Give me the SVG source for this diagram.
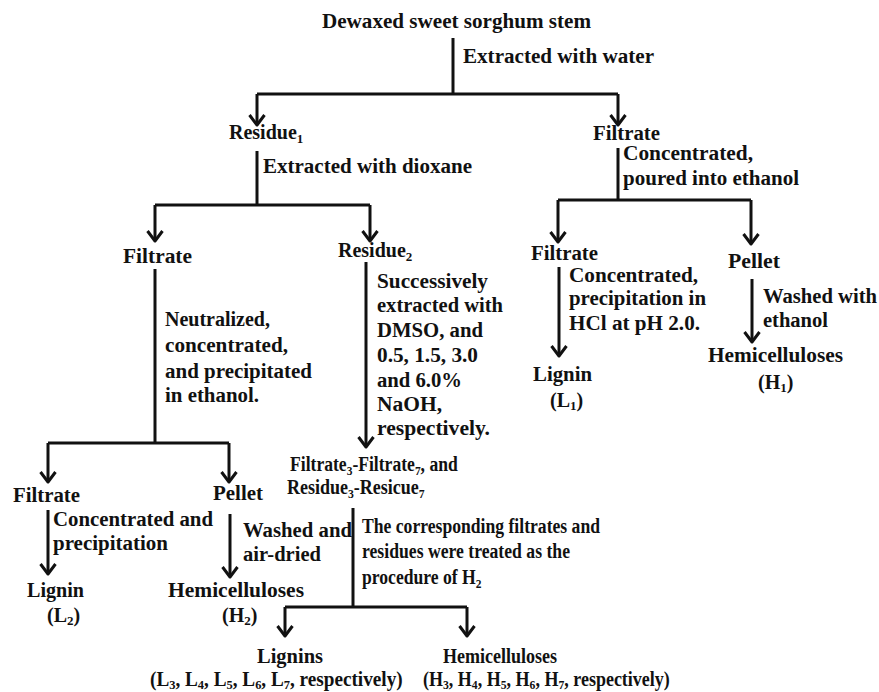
<svg xmlns="http://www.w3.org/2000/svg" width="879" height="692" viewBox="0 0 879 692">
<style>
text{font-family:"Liberation Serif","Times New Roman",serif;font-weight:bold;font-size:20px;fill:#111;}
.s{font-size:13px;}
.c{fill:none;stroke:#111;stroke-width:3;}
</style>
<defs>
<marker id="ah" markerUnits="userSpaceOnUse" viewBox="-12 -10 14 20" markerWidth="14" markerHeight="20" refX="0" refY="0" orient="auto" overflow="visible">
<path d="M-10,-7.5 L0,0 L-10,7.5" fill="none" stroke="#111" stroke-width="3" stroke-linejoin="round"/>
</marker>
</defs>
<rect width="879" height="692" fill="#fff"/>
<g id="connectors">
<path class="c" d="M453,38 V94"/>
<path class="c" d="M257,94 H618"/>
<path class="c" d="M257,94 V125" marker-end="url(#ah)"/>
<path class="c" d="M618,94 V125" marker-end="url(#ah)"/>
<path class="c" d="M257,151 V205"/>
<path class="c" d="M155,205 H370"/>
<path class="c" d="M155,205 V241" marker-end="url(#ah)"/>
<path class="c" d="M370,205 V241" marker-end="url(#ah)"/>
<path class="c" d="M618,148 V200"/>
<path class="c" d="M558,200 H751"/>
<path class="c" d="M558,200 V242" marker-end="url(#ah)"/>
<path class="c" d="M751,200 V244" marker-end="url(#ah)"/>
<path class="c" d="M155,269 V443"/>
<path class="c" d="M48,443 H229"/>
<path class="c" d="M48,443 V482" marker-end="url(#ah)"/>
<path class="c" d="M229,443 V482" marker-end="url(#ah)"/>
<path class="c" d="M366,262 V447" marker-end="url(#ah)"/>
<path class="c" d="M559,267 V356" marker-end="url(#ah)"/>
<path class="c" d="M752,279 V342" marker-end="url(#ah)"/>
<path class="c" d="M48,510 V574" marker-end="url(#ah)"/>
<path class="c" d="M230,514 V577" marker-end="url(#ah)"/>
<path class="c" d="M353,508 V607"/>
<path class="c" d="M285,607 H467"/>
<path class="c" d="M285,607 V636" marker-end="url(#ah)"/>
<path class="c" d="M467,607 V636" marker-end="url(#ah)"/>
</g>
<g id="start"><text x="322" y="28" textLength="269" lengthAdjust="spacingAndGlyphs" style="font-size:21px">Dewaxed sweet sorghum stem</text></g>
<g id="lbl-water"><text x="463" y="63" textLength="191" lengthAdjust="spacingAndGlyphs">Extracted with water</text></g>
<g id="residue1"><text x="229" y="139">Residue<tspan class="s" dy="4">1</tspan></text></g>
<g id="filtrate1"><text x="593" y="140" textLength="67" lengthAdjust="spacingAndGlyphs">Filtrate</text></g>
<g id="lbl-dioxane"><text x="263" y="173" textLength="209" lengthAdjust="spacingAndGlyphs">Extracted with dioxane</text></g>
<g id="lbl-conc1">
<text x="623" y="160" textLength="130" lengthAdjust="spacingAndGlyphs">Concentrated,</text>
<text x="623" y="185" textLength="176" lengthAdjust="spacingAndGlyphs">poured into ethanol</text>
</g>
<g id="filtrate-left"><text x="123" y="263" textLength="69" lengthAdjust="spacingAndGlyphs">Filtrate</text></g>
<g id="residue2"><text x="338" y="257">Residue<tspan class="s" dy="4">2</tspan></text></g>
<g id="lbl-neutralized">
<text x="165" y="326" textLength="105" lengthAdjust="spacingAndGlyphs">Neutralized,</text>
<text x="165" y="352" textLength="123" lengthAdjust="spacingAndGlyphs">concentrated,</text>
<text x="165" y="378" textLength="147" lengthAdjust="spacingAndGlyphs">and precipitated</text>
<text x="165" y="402" textLength="94" lengthAdjust="spacingAndGlyphs">in ethanol.</text>
</g>
<g id="lbl-successively">
<text x="377" y="288" textLength="111" lengthAdjust="spacingAndGlyphs">Successively</text>
<text x="377" y="312" textLength="126" lengthAdjust="spacingAndGlyphs">extracted with</text>
<text x="377" y="337" textLength="106" lengthAdjust="spacingAndGlyphs">DMSO, and</text>
<text x="377" y="362" textLength="101" lengthAdjust="spacingAndGlyphs">0.5, 1.5, 3.0</text>
<text x="377" y="387" textLength="85" lengthAdjust="spacingAndGlyphs">and 6.0%</text>
<text x="377" y="411" textLength="65" lengthAdjust="spacingAndGlyphs">NaOH,</text>
<text x="377" y="435" textLength="113" lengthAdjust="spacingAndGlyphs">respectively.</text>
</g>
<g id="filtrate-right"><text x="531" y="260" textLength="67" lengthAdjust="spacingAndGlyphs">Filtrate</text></g>
<g id="pellet-right"><text x="728" y="268" textLength="52" lengthAdjust="spacingAndGlyphs">Pellet</text></g>
<g id="lbl-hcl">
<text x="569" y="282" textLength="129" lengthAdjust="spacingAndGlyphs">Concentrated,</text>
<text x="569" y="305" textLength="137" lengthAdjust="spacingAndGlyphs">precipitation in</text>
<text x="569" y="330" textLength="131" lengthAdjust="spacingAndGlyphs">HCl at pH 2.0.</text>
</g>
<g id="lbl-washed1">
<text x="763" y="303" textLength="114" lengthAdjust="spacingAndGlyphs">Washed with</text>
<text x="763" y="327" textLength="65" lengthAdjust="spacingAndGlyphs">ethanol</text>
</g>
<g id="lignin1">
<text x="533" y="381" textLength="59" lengthAdjust="spacingAndGlyphs">Lignin</text>
<text x="550" y="407">(L<tspan class="s" dy="3">1</tspan><tspan dy="-3">)</tspan></text>
</g>
<g id="hemi1">
<text x="708" y="362" textLength="135" lengthAdjust="spacingAndGlyphs">Hemicelluloses</text>
<text x="758" y="389">(H<tspan class="s" dy="3">1</tspan><tspan dy="-3">)</tspan></text>
</g>
<g id="filtrate-bl"><text x="13" y="502" textLength="67" lengthAdjust="spacingAndGlyphs">Filtrate</text></g>
<g id="pellet-bl"><text x="213" y="500" textLength="50" lengthAdjust="spacingAndGlyphs">Pellet</text></g>
<g id="lbl-conc2">
<text x="53" y="526" textLength="160" lengthAdjust="spacingAndGlyphs">Concentrated and</text>
<text x="53" y="550" textLength="115" lengthAdjust="spacingAndGlyphs">precipitation</text>
</g>
<g id="lbl-washed2">
<text x="243" y="537" textLength="109" lengthAdjust="spacingAndGlyphs">Washed and</text>
<text x="243" y="561" textLength="78" lengthAdjust="spacingAndGlyphs">air-dried</text>
</g>
<g id="lignin2">
<text x="27" y="597" textLength="57" lengthAdjust="spacingAndGlyphs">Lignin</text>
<text x="47" y="622">(L<tspan class="s" dy="3">2</tspan><tspan dy="-3">)</tspan></text>
</g>
<g id="hemi2">
<text x="168" y="597" textLength="136" lengthAdjust="spacingAndGlyphs">Hemicelluloses</text>
<text x="222" y="622">(H<tspan class="s" dy="3">2</tspan><tspan dy="-3">)</tspan></text>
</g>
<g id="filtrates3-7">
<text transform="translate(290,471) scale(0.88,1)">Filtrate<tspan class="s" dy="4">3</tspan><tspan dy="-4">-Filtrate</tspan><tspan class="s" dy="4">7</tspan><tspan dy="-4">, and</tspan></text>
<text transform="translate(287,494) scale(0.9,1)">Residue<tspan class="s" dy="4">3</tspan><tspan dy="-4">-Resicue</tspan><tspan class="s" dy="4">7</tspan></text>
</g>
<g id="lbl-corresponding">
<text x="362" y="533" textLength="238" lengthAdjust="spacingAndGlyphs">The corresponding filtrates and</text>
<text x="362" y="558" textLength="208" lengthAdjust="spacingAndGlyphs">residues were treated as the</text>
<text transform="translate(362,584) scale(0.88,1)">procedure of H<tspan class="s" dy="4">2</tspan></text>
</g>
<g id="lignins">
<text x="257" y="663" textLength="66" lengthAdjust="spacingAndGlyphs">Lignins</text>
<text transform="translate(150,686) scale(0.96,1)">(L<tspan class="s" dy="3">3</tspan><tspan dy="-3">, L</tspan><tspan class="s" dy="3">4</tspan><tspan dy="-3">, L</tspan><tspan class="s" dy="3">5</tspan><tspan dy="-3">, L</tspan><tspan class="s" dy="3">6</tspan><tspan dy="-3">, L</tspan><tspan class="s" dy="3">7</tspan><tspan dy="-3">, respectively)</tspan></text>
</g>
<g id="hemis">
<text x="443" y="663" textLength="114" lengthAdjust="spacingAndGlyphs">Hemicelluloses</text>
<text transform="translate(423,686) scale(0.9,1)">(H<tspan class="s" dy="3">3</tspan><tspan dy="-3">, H</tspan><tspan class="s" dy="3">4</tspan><tspan dy="-3">, H</tspan><tspan class="s" dy="3">5</tspan><tspan dy="-3">, H</tspan><tspan class="s" dy="3">6</tspan><tspan dy="-3">, H</tspan><tspan class="s" dy="3">7</tspan><tspan dy="-3">, respectively)</tspan></text>
</g>
</svg>
